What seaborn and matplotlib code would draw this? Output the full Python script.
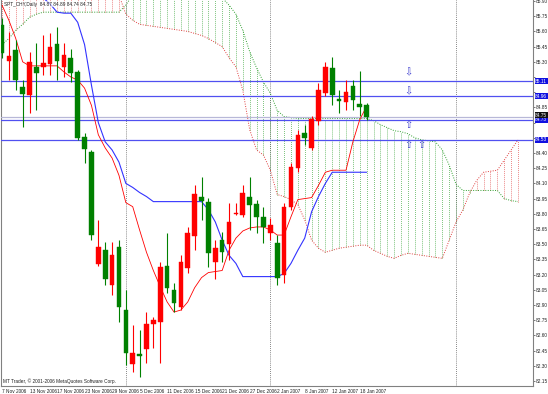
import numpy as np
import pandas as pd
import matplotlib
matplotlib.use("Agg")
import matplotlib.pyplot as plt
import matplotlib.transforms as mtransforms
import seaborn as sns

# ---------------- data ----------------
date_labels = ["7 Nov 2006", "13 Nov 2006", "17 Nov 2006", "23 Nov 2006", "29 Nov 2006",
               "5 Dec 2006", "11 Dec 2006", "15 Dec 2006", "21 Dec 2006", "27 Dec 2006",
               "2 Jan 2007", "8 Jan 2007", "12 Jan 2007", "18 Jan 2007"]
date_bars = [0, 4, 8, 12, 16, 20, 24, 28, 32, 36, 40, 44, 48, 52]

opens = [85.66, 85.31, 85.42, 85.05, 84.97, 85.25, 85.25, 85.28, 85.48, 85.25,
         85.34, 85.20, 84.56, 84.41, 83.30, 83.44, 83.10, 83.47, 82.85, 82.32,
         82.42, 82.47, 82.71, 82.73, 83.28, 83.05, 82.88, 83.26, 83.58, 83.97,
         83.92, 83.32, 83.54, 83.50, 83.80, 83.79, 83.97, 83.90, 83.77, 83.61,
         83.51, 83.20, 83.87, 84.25, 84.60, 84.45, 84.72, 84.99, 85.24, 84.93,
         84.90, 85.06, 84.88, 84.87]
highs = [85.73, 85.59, 85.52, 85.12, 85.40, 85.49, 85.56, 85.58, 85.64, 85.49,
         85.43, 85.22, 84.60, 84.43, 83.74, 83.52, 83.52, 83.54, 83.05, 82.70,
         82.65, 82.83, 82.78, 83.32, 83.61, 83.12, 83.39, 83.67, 84.08, 84.16,
         83.96, 83.54, 83.62, 83.91, 83.91, 84.08, 84.16, 83.94, 83.87, 83.76,
         83.59, 83.91, 84.30, 84.63, 84.68, 84.77, 85.09, 85.30, 85.35, 85.02,
         85.12, 85.12, 85.21, 84.89]
lows = [85.34, 85.12, 85.02, 84.66, 84.79, 84.82, 85.17, 85.17, 85.12, 85.15,
        85.10, 84.53, 84.30, 83.54, 83.28, 83.10, 83.00, 82.73, 82.31, 82.24,
        82.19, 82.33, 82.48, 82.33, 83.02, 82.83, 82.85, 83.22, 83.44, 83.74,
        83.27, 83.16, 83.32, 83.34, 83.79, 83.77, 83.64, 83.61, 83.51, 83.54,
        83.10, 83.12, 83.84, 84.21, 84.48, 84.43, 84.68, 84.96, 84.87, 84.79,
        84.82, 84.82, 84.77, 84.73]
closes = [85.39, 85.36, 85.12, 84.98, 85.30, 85.19, 85.29, 85.45, 85.31, 85.37,
          85.19, 84.55, 84.44, 83.59, 83.47, 83.16, 83.39, 82.88, 82.43, 82.43,
          82.40, 82.71, 82.75, 83.27, 83.07, 82.92, 83.32, 83.61, 84.00, 83.93,
          83.41, 83.46, 83.42, 83.72, 83.81, 84.01, 83.89, 83.77, 83.67, 83.69,
          83.17, 83.87, 84.26, 84.58, 84.55, 84.74, 85.02, 85.25, 84.97, 84.91,
          85.00, 84.92, 84.85, 84.76]

tenkan = [85.86, 85.71, 85.53, 85.30, 85.26, 85.26, 85.26, 85.26, 85.26, 85.20,
          85.15, 85.12, 85.04, 84.87, 84.58, 84.45, 84.35, 84.18, 83.91, 83.87,
          83.64, 83.42, 83.24, 83.08, 82.93, 82.83, 82.85, 82.93, 83.07, 83.17,
          83.22, 83.23, 83.24, 83.44, 83.56, 83.63, 83.66, 83.67, 83.67, 83.64,
          83.59, 83.59, 83.77, 83.94, 83.95, 83.96, 84.08, 84.21, 84.23, 84.23,
          84.23, 84.51, 84.73, 84.86]
kijun = [86.11, 86.06, 86.03, 86.01, 85.99, 85.96, 85.93, 85.87, 85.79, 85.78,
         85.78, 85.69, 85.47, 85.07, 84.70, 84.51, 84.43, 84.31, 84.10, 84.06,
         84.01, 83.97, 83.92, 83.92, 83.92, 83.92, 83.92, 83.92, 83.92, 83.92,
         83.84, 83.72, 83.54, 83.39, 83.31, 83.18, 83.18, 83.18, 83.18, 83.18,
         83.18, 83.21, 83.31, 83.44, 83.56, 83.82, 83.97, 84.10, 84.21, 84.21,
         84.21, 84.21, 84.21, 84.21]

span_a = [85.47, 85.53, 85.61, 85.67, 85.74, 85.77, 85.79, 85.79, 85.79, 85.79,
          85.79, 85.79, 85.79, 85.79, 85.79, 85.79, 85.79, 85.79, 85.86, 85.96,
          86.01, 86.01, 86.01, 86.01, 86.01, 86.01, 86.01, 86.01, 86.01, 86.01,
          86.01, 86.01, 85.93, 85.86, 85.77, 85.61, 85.40, 85.24, 85.10, 84.99,
          84.82, 84.76, 84.75, 84.74, 84.74, 84.74, 84.74, 84.74, 84.74, 84.74,
          84.74, 84.74, 84.74, 84.74, 84.72, 84.68, 84.65, 84.62, 84.61, 84.59,
          84.55, 84.53, 84.52, 84.51, 84.43, 84.28, 84.09, 84.03, 84.03, 84.03,
          84.03, 84.03, 84.03, 83.95, 83.93, 83.92]
span_b = [86.20, 86.20, 86.20, 86.20, 86.20, 86.20, 86.20, 86.20, 86.20, 86.20,
          86.20, 86.20, 86.20, 86.20, 86.20, 86.20, 86.20, 85.96, 85.77, 85.71,
          85.67, 85.66, 85.65, 85.64, 85.63, 85.62, 85.61, 85.60, 85.58, 85.56,
          85.53, 85.49, 85.45, 85.34, 85.25, 85.02, 84.63, 84.43, 84.38, 84.23,
          83.99, 83.97, 83.94, 83.89, 83.74, 83.54, 83.46, 83.42, 83.44, 83.46,
          83.47, 83.48, 83.49, 83.49, 83.44, 83.41, 83.38, 83.36, 83.39, 83.41,
          83.40, 83.39, 83.38, 83.37, 83.36, 83.54, 83.72, 83.84, 84.01, 84.13,
          84.21, 84.22, 84.23, 84.33, 84.43, 84.53]

level_lines = [85.11, 84.96, 84.73, 84.53]
bid_line = 84.76
arrow_down_bars = [59, 59]
arrow_down_prices = [85.20, 85.01]
arrow_up_bars = [59, 59, 61]
arrow_up_prices = [84.68, 84.48, 84.48]
separator_bars = [18, 39, 66]

title_text = "SPT_CHY,Daily  84.87 84.89 84.74 84.75"
copyright_text = "MT Trader, \u00a9 2001-2006 MetaQuotes Software Corp."

# ---------------- figure ----------------
sns.set_theme(style="white")
plt.rcParams["font.family"] = ["Liberation Sans Narrow", "Liberation Sans", "DejaVu Sans"]
FS = 3.4

W, H = 548, 394
fig = plt.figure(figsize=(W / 100, H / 100), dpi=100)
fig.patch.set_facecolor("white")
ax = fig.add_axes([1 / W, 8 / H, 532 / W, 386 / H])
ax.set_facecolor("white")

n = len(opens)
bars = np.arange(n)
cloud_idx = np.arange(len(span_a))

GREEN = "#008000"
RED = "#ff0000"
BLUE = "#3333ff"
HATCH_G = "#30a030"
HATCH_R = "#e04040"

# Kumo hatch (vertical dotted lines per bar)
sa = np.array(span_a)
sb = np.array(span_b)
for i in cloud_idx:
    col = HATCH_G if sa[i] >= sb[i] else HATCH_R
    ax.vlines(i, min(sa[i], sb[i]), max(sa[i], sb[i]), colors=col,
              linestyles=(0, (1, 1.6)), linewidth=0.55, zorder=1)

df_cloud = pd.DataFrame({"bar": cloud_idx, "a": sa, "b": sb})
sns.lineplot(data=df_cloud, x="bar", y="a", ax=ax, color=HATCH_G,
             linewidth=0.7, linestyle=(0, (1, 1.5)), zorder=2)
sns.lineplot(data=df_cloud, x="bar", y="b", ax=ax, color=HATCH_R,
             linewidth=0.7, linestyle=(0, (1, 1.5)), zorder=2)

# separators
for s in separator_bars:
    ax.axvline(s, color="#606060", linewidth=0.6, linestyle=(0, (1, 1.5)), zorder=1)

# level lines
for p in level_lines:
    ax.axhline(p, color="#5050f0", linewidth=0.9, zorder=3)
ax.axhline(bid_line, color="#b8b8d8", linewidth=0.9, zorder=3)

# Ichimoku lines
df_lines = pd.DataFrame({"bar": bars, "tenkan": tenkan, "kijun": kijun})
sns.lineplot(data=df_lines, x="bar", y="kijun", ax=ax, color=BLUE, linewidth=0.8, zorder=4)
sns.lineplot(data=df_lines, x="bar", y="tenkan", ax=ax, color=RED, linewidth=0.6, zorder=4)

# candles
o = np.array(opens); c = np.array(closes); h = np.array(highs); l = np.array(lows)
cols = [RED if cc >= oo else GREEN for oo, cc in zip(o, c)]
ax.vlines(bars, l, h, colors=cols, linewidth=0.8, zorder=5)
bottoms = np.minimum(o, c)
heights = np.maximum(np.abs(c - o), 0.012)
ax.bar(bars, heights, bottom=bottoms, width=0.68, color=cols, edgecolor=cols,
       linewidth=0.3, zorder=6)

# arrows
for b, p in zip(arrow_down_bars, arrow_down_prices):
    ax.text(b, p, "\u21e9", color="#4040d0", fontsize=7, ha="center", va="center",
            zorder=7, family="DejaVu Sans")
for b, p in zip(arrow_up_bars, arrow_up_prices):
    ax.text(b, p, "\u21e7", color="#4040d0", fontsize=7, ha="center", va="center",
            zorder=7, family="DejaVu Sans")

# axes
ymax = 85.91
ymin = 85.91 - 386 * 0.00987
ax.set_ylim(ymin, ymax)
ax.set_xlim((1 - 2) / 6.88, 531 / 6.88)

yt = np.round(np.arange(82.15, 85.91, 0.15), 2)
box_prices = level_lines + [bid_line]
ylabels = ["" if min(abs(v - bp) for bp in box_prices) < 0.045 else f"{v:.2f}" for v in yt]
ax.yaxis.tick_right()
ax.set_yticks(yt)
ax.set_yticklabels(ylabels, fontsize=FS, color="#202020")
ax.set_xticks(date_bars)
ax.set_xticklabels(date_labels, fontsize=FS, color="#202020", ha="left")
ax.tick_params(axis="both", length=1.6, width=0.5, pad=0.5, colors="#404040",
               labelcolor="#202020")
ax.tick_params(axis="y", left=False, right=True, pad=0.4)
ax.tick_params(axis="x", pad=0.6)
ax.set_xlabel("")
ax.set_ylabel("")
for side in ["right", "bottom", "left"]:
    ax.spines[side].set_visible(True)
    ax.spines[side].set_color("#808080")
    ax.spines[side].set_linewidth(0.8)
ax.spines["top"].set_visible(False)

# price boxes at right
trans = mtransforms.blended_transform_factory(ax.transAxes, ax.transData)
for p in level_lines:
    ax.text(1.004, p, f"{p:.2f}", transform=trans, fontsize=FS, color="white",
            ha="left", va="center", zorder=10, clip_on=False,
            bbox=dict(boxstyle="square,pad=0.12", fc="#1010e0", ec="none"))
ax.text(1.004, bid_line + 0.012, f"{bid_line - 0.01:.2f}", transform=trans, fontsize=FS,
        color="white", ha="left", va="center", zorder=11, clip_on=False,
        bbox=dict(boxstyle="square,pad=0.12", fc="#101010", ec="none"))

ax.text(0.006, 0.995, title_text, transform=ax.transAxes, fontsize=FS,
        color="#202020", ha="left", va="top", zorder=12,
        bbox=dict(boxstyle="square,pad=0.1", fc="white", ec="none", alpha=0.6))
ax.text(0.004, 0.006, copyright_text, transform=ax.transAxes, fontsize=FS,
        color="#202020", ha="left", va="bottom", zorder=12)

fig.savefig("out.png", dpi=100, facecolor="white")
